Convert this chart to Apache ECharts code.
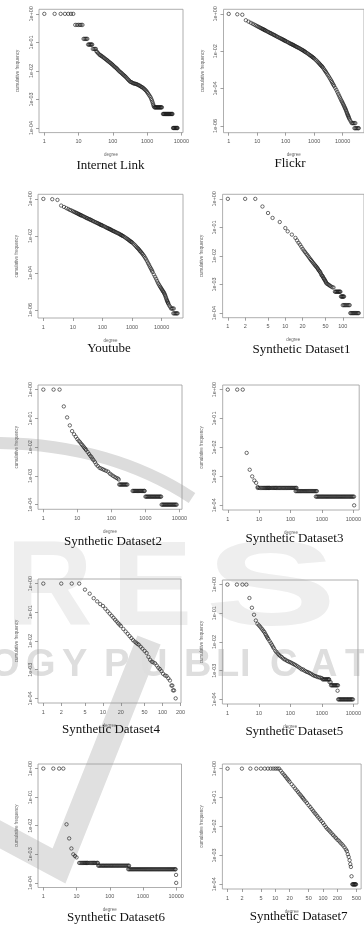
<!DOCTYPE html>
<html><head><meta charset="utf-8">
<script src="https://cdn.jsdelivr.net/npm/echarts@6/dist/echarts.min.js"></script>
<style>html,body{margin:0;padding:0;background:#fff}#c{width:364px;height:927px}</style>
</head><body><div id="c"></div><script>
// ---------- titles ----------
const panelTitles = ['Internet Link','Flickr','Youtube','Synthetic Dataset1','Synthetic Dataset2',
  'Synthetic Dataset3','Synthetic Dataset4','Synthetic Dataset5','Synthetic Dataset6','Synthetic Dataset7'];
const xAxisName = 'degree';
const yAxisName = 'cumulative frequency';

// ---------- tick values / labels ----------
const xTicksDecade = [1,10,100,1000,10000];
const xLabelsDecade = ['1','10','100','1000','10000'];
const xTicks125 = [1,2,5,10,20,50,100,200,500];
const xLabels125 = ['1','2','5','10','20','50','100','200','500'];
const yTicks4 = [1,0.1,0.01,0.001,0.0001];
const yLabels4 = ['1e+00','1e-01','1e-02','1e-03','1e-04'];
const yTicks6 = [1,0.01,0.0001,0.000001];
const yLabels6 = ['1e+00','1e-02','1e-04','1e-06'];

// ---------- data: [degree, cumulative frequency] ----------
const internetLink = [[1,1],[2,1],[3,1],[4,1],[5,1],[6,1],[7,1],
[8,0.41],[9,0.41],[10,0.41],[11,0.41],[12,0.41],[13,0.41],
[14,0.133],[15,0.133],[16,0.133],[17,0.133],[18,0.133],
[19,0.084],[20,0.084],[21,0.084],[22,0.084],[23,0.084],[24,0.084],[25,0.084],
[26,0.059],[28,0.059],[30,0.059],[32,0.059],
[33,0.049],[35,0.0457],[37,0.042],[40,0.0385],[42,0.036],[45,0.0347],[47,0.033],[50,0.0316],[53,0.03],[56,0.0282],[60,0.0265],[64,0.0251],[68,0.0238],[71,0.0226],[75,0.0214],[80,0.0202],[85,0.019],[90,0.018],[95,0.017],[100,0.0162],[106,0.015],[112,0.0141],[119,0.0133],[126,0.0126],[133,0.0118],[140,0.011],[149,0.0102],[158,0.0095],[168,0.009],[178,0.0085],[189,0.0079],[200,0.0074],[212,0.007],[224,0.0066],[237,0.0062],[251,0.00575],[266,0.0053],[282,0.0049],[299,0.0046],[316,0.00427],[335,0.0041],[355,0.004],[376,0.0038],[398,0.0037],[422,0.0036],[447,0.00355],[473,0.0035],[501,0.0034],[531,0.0033],[562,0.00316],[596,0.0031],[631,0.00295],[668,0.0028],[708,0.0027],[750,0.0026],[794,0.00245],[841,0.0023],[891,0.00214],[944,0.002],[1000,0.00182],[1060,0.00165],[1122,0.00148],[1190,0.00134],[1259,0.0012],[1320,0.00105],[1380,0.00093],[1430,0.00082],[1480,0.00072],[1530,0.00064],[1567,0.000575],
[1640,0.00053],[1700,0.00053],[1760,0.00053],[1820,0.00053],[1890,0.00053],[1960,0.00053],[2030,0.00053],[2100,0.00053],[2180,0.00053],[2260,0.00053],[2340,0.00053],[2430,0.00053],[2520,0.00053],[2610,0.00053],[2700,0.00053],
[2900,0.00031],[3010,0.00031],[3120,0.00031],[3230,0.00031],[3350,0.00031],[3470,0.00031],[3600,0.00031],[3730,0.00031],[3870,0.00031],[4010,0.00031],[4160,0.00031],[4310,0.00031],[4470,0.00031],[4630,0.00031],[4800,0.00031],[4980,0.00031],[5160,0.00031],[5350,0.00031],[5500,0.00031],
[5700,0.0001],[5900,0.0001],[6120,0.0001],[6340,0.0001],[6570,0.0001],[6810,0.0001],[7060,0.0001],[7320,0.0001],[7550,0.0001],[7700,0.0001]];

const flickr = [[1,1],[2,0.95],[3,0.9],
[4,0.457],[5,0.382],[6,0.331],[7,0.292],[8,0.263],[9,0.24],[10,0.219],[11,0.204],[12,0.19],[13,0.178],[14,0.168],[15,0.159],[16,0.151],[17,0.144],[18,0.138],[19,0.132],[20,0.126],[22,0.117],[24,0.109],[26,0.102],[28,0.096],[30,0.091],[32,0.087],[35,0.081],[38,0.076],[40,0.0724],[43,0.069],[47,0.064],[50,0.06],[55,0.056],[60,0.0525],[65,0.049],[70,0.0468],[75,0.044],[80,0.0417],[85,0.04],[90,0.038],[95,0.0363],[100,0.0347],[110,0.0323],[120,0.0302],[130,0.0282],[140,0.0263],[150,0.025],[160,0.024],[170,0.0229],[180,0.0219],[190,0.021],[200,0.02],[215,0.0189],[230,0.0178],[245,0.017],[260,0.0162],[280,0.0153],[300,0.0145],[325,0.0135],[350,0.0126],[375,0.0119],[400,0.0112],[425,0.0106],[450,0.01],[475,0.0094],[500,0.0089],[550,0.0081],[600,0.0074],[650,0.0068],[700,0.0062],[750,0.0058],[800,0.0054],[850,0.005],[900,0.0047],[950,0.0044],[1000,0.0041],[1100,0.0036],[1200,0.0032],[1300,0.0028],[1400,0.0025],[1500,0.00225],[1600,0.002],[1700,0.0018],[1800,0.00166],[1900,0.0015],[2000,0.00138],[2150,0.00118],[2300,0.001],[2450,0.00087],[2600,0.00076],[2800,0.00064],[3000,0.00054],[3250,0.00045],[3500,0.00037],[3750,0.00031],[4000,0.00026],[4250,0.00022],[4500,0.000186],[4750,0.00016],[5000,0.000138],[5500,0.000108],[6000,0.000085],[6500,0.000066],[7000,0.000052],[7500,0.000042],[8000,0.000034],[8500,0.000028],[9000,0.000023],[9500,0.00002],[10000,0.000017],[10500,0.0000145],[11000,0.0000126],[11500,0.0000108],[12000,0.0000093],[12500,0.0000082],[13000,0.0000071],[13500,0.0000061],[14000,0.0000052],[14500,0.0000046],[15000,0.000004],[15500,0.0000036],[16000,0.0000032],[16500,0.0000028],[17000,0.0000025],[18000,0.0000021],[19500,0.0000017],
[21000,0.0000014],[22500,0.0000014],[24000,0.0000014],[26000,0.0000014],[28000,0.0000014],
[26000,7.5e-7],[28000,7.5e-7],[30000,7.5e-7],[32500,7.5e-7],[35000,7.5e-7],[37000,7.5e-7]];

const youtube = [[1,1],[2,0.96],[3,0.88],
[4,0.436],[5,0.367],[6,0.316],[7,0.282],[8,0.251],[9,0.234],[10,0.214],[11,0.2],[12,0.186],[13,0.175],[14,0.166],[15,0.157],[16,0.148],[17,0.141],[18,0.135],[19,0.13],[20,0.126],[22,0.117],[24,0.109],[26,0.102],[28,0.096],[30,0.091],[32,0.087],[35,0.081],[38,0.077],[40,0.074],[43,0.07],[47,0.065],[50,0.0617],[55,0.057],[60,0.0537],[65,0.0505],[70,0.0479],[75,0.0452],[80,0.0427],[85,0.041],[90,0.039],[95,0.0376],[100,0.0363],[110,0.0338],[120,0.0316],[130,0.0295],[140,0.0275],[150,0.0263],[160,0.0251],[170,0.024],[180,0.0229],[190,0.0219],[200,0.0209],[215,0.0197],[230,0.0186],[245,0.0178],[260,0.017],[280,0.016],[300,0.0151],[325,0.0143],[350,0.0135],[375,0.0127],[400,0.012],[425,0.0113],[450,0.0107],[475,0.0102],[500,0.0098],[550,0.0089],[600,0.0081],[650,0.0074],[700,0.0068],[750,0.0063],[800,0.0058],[850,0.0054],[900,0.005],[950,0.0047],[1000,0.0045],[1100,0.0039],[1200,0.0034],[1300,0.003],[1400,0.0026],[1500,0.0023],[1600,0.0021],[1700,0.0019],[1800,0.00166],[1900,0.0015],[2000,0.00138],[2150,0.0012],[2300,0.00105],[2450,0.0009],[2600,0.00079],[2800,0.00065],[3000,0.00054],[3250,0.00043],[3500,0.00034],[3750,0.00028],[4000,0.000224],[4250,0.000188],[4500,0.000158],[4750,0.000133],[5000,0.000112],[5500,0.000083],[6000,0.000063],[6500,0.000049],[7000,0.000038],[7500,0.00003],[8000,0.000025],[8500,0.000021],[9000,0.000018],[9500,0.0000158],[10000,0.0000138],[10500,0.0000122],[11000,0.0000107],[11500,0.0000097],[12000,0.0000087],[12500,0.0000076],[13000,0.0000066],[13500,0.0000057],[14000,0.0000048],[14500,0.0000041],[15000,0.0000035],[15500,0.0000031],[16000,0.00000275],[16500,0.00000245],[17000,0.0000022],[18000,0.0000018],[19500,0.0000015],
[21000,0.0000012],[22500,0.0000012],[24000,0.0000012],[26000,0.0000012],
[25000,6.6e-7],[27000,6.6e-7],[29000,6.6e-7],[31000,6.6e-7],[33000,6.6e-7],[35000,6.6e-7]];

const synthetic1 = [[1,1],[2,1],[3,1],[4,0.54],[5,0.32],[6,0.215],[8,0.155],[10,0.095],[11,0.073],[13,0.056],[15,0.043],
[16,0.035],[17,0.029],[18,0.025],[19,0.021],[20,0.0178],[21,0.0155],[22,0.0138],[23,0.0122],[24,0.011],[25,0.0098],[26,0.0088],[27,0.0079],[28,0.0072],[29,0.0066],[30,0.006],[31,0.0055],[32,0.0051],[33,0.0047],[34,0.0044],[35,0.0041],[36,0.0038],[37,0.0035],[38,0.0032],[39,0.003],[40,0.0028],[41,0.0026],[42,0.0023],[43,0.0021],[44,0.002],[45,0.0019],[46,0.0017],[47,0.0016],[48,0.0015],[49,0.0014],[50,0.0013],[51,0.0012],[52,0.0011],[54,0.00105],[56,0.001],[58,0.00095],[60,0.0009],[63,0.00085],[66,0.0008],[69,0.00079],
[73,0.00056],[75,0.00056],[77,0.00056],[79,0.00056],[81,0.00056],[83,0.00056],[85,0.00056],[87,0.00056],[89,0.00056],[91,0.00056],
[93,0.00038],[95,0.00038],[97,0.00038],[99,0.00038],[101,0.00038],[103,0.00038],[105,0.00038],
[100,0.00019],[104,0.00019],[108,0.00019],[112,0.00019],[117,0.00019],[122,0.00019],[127,0.00019],[132,0.00019],
[135,0.0001],[140,0.0001],[145,0.0001],[150,0.0001],[155,0.0001],[160,0.0001],[166,0.0001],[172,0.0001],[178,0.0001],[184,0.0001],[190,0.0001]];

const synthetic2 = [[1,1],[2,1],[3,1],[4,0.26],[5,0.108],[6,0.057],[7,0.036],[8,0.028],[9,0.023],[10,0.019],[11,0.0165],[12,0.0148],[13,0.013],[14,0.0118],[15,0.0106],[16,0.0096],[17,0.0088],[18,0.008],[20,0.0068],[22,0.0058],[24,0.005],[26,0.0045],[28,0.0039],[30,0.0035],[33,0.003],[36,0.0025],[40,0.0022],[45,0.0019],[50,0.0018],[56,0.0017],[62,0.0016],[70,0.0015],[80,0.0014],[90,0.0012],[100,0.0011],[112,0.001],[125,0.00092],[140,0.00085],[155,0.00081],[165,0.00075],
[170,0.0005],[180,0.0005],[190,0.0005],[200,0.0005],[212,0.0005],[224,0.0005],[237,0.0005],[250,0.0005],[265,0.0005],[280,0.0005],[295,0.0005],
[420,0.0003],[445,0.0003],[470,0.0003],[497,0.0003],[526,0.0003],[557,0.0003],[589,0.0003],[623,0.0003],[659,0.0003],[697,0.0003],[737,0.0003],[780,0.0003],[825,0.0003],[873,0.0003],[923,0.0003],[950,0.0003],
[1000,0.00019],[1060,0.00019],[1120,0.00019],[1185,0.00019],[1255,0.00019],[1330,0.00019],[1405,0.00019],[1490,0.00019],[1575,0.00019],[1665,0.00019],[1765,0.00019],[1865,0.00019],[1975,0.00019],[2090,0.00019],[2210,0.00019],[2340,0.00019],[2475,0.00019],[2620,0.00019],[2770,0.00019],[2900,0.00019],
[3000,0.0001],[3170,0.0001],[3360,0.0001],[3550,0.0001],[3760,0.0001],[3980,0.0001],[4210,0.0001],[4450,0.0001],[4710,0.0001],[4990,0.0001],[5280,0.0001],[5580,0.0001],[5910,0.0001],[6250,0.0001],[6620,0.0001],[7000,0.0001],[7410,0.0001],[7840,0.0001],[8300,0.0001]];

const synthetic3 = [[1,1],[2,1],[3,1],[4,0.0065],[5,0.0017],[6,0.001],[7,0.00072],[8,0.0006],[9,0.00043],
[9,0.0004],[10,0.0004],[11,0.0004],[12,0.0004],[13,0.0004],[14,0.0004],[15,0.0004],[16,0.0004],[17,0.0004],[18,0.0004],[19,0.0004],[20,0.0004],[21,0.0004],[22,0.0004],[24,0.0004],[26,0.0004],[28,0.0004],[30,0.0004],[32,0.0004],[34,0.0004],[36,0.0004],[39,0.0004],[42,0.0004],[45,0.0004],[48,0.0004],[52,0.0004],[56,0.0004],[60,0.0004],[64,0.0004],[69,0.0004],[74,0.0004],[79,0.0004],[85,0.0004],[91,0.0004],[98,0.0004],[105,0.0004],[112,0.0004],[120,0.0004],[129,0.0004],[138,0.0004],[148,0.0004],[155,0.0004],
[145,0.00031],[155,0.00031],[166,0.00031],[178,0.00031],[190,0.00031],[204,0.00031],[218,0.00031],[233,0.00031],[250,0.00031],[268,0.00031],[287,0.00031],[307,0.00031],[329,0.00031],[352,0.00031],[377,0.00031],[404,0.00031],[432,0.00031],[463,0.00031],[495,0.00031],[530,0.00031],[568,0.00031],[608,0.00031],[650,0.00031],[690,0.00031],
[640,0.0002],[685,0.0002],[733,0.0002],[785,0.0002],[840,0.0002],[900,0.0002],[963,0.0002],[1030,0.0002],[1100,0.0002],[1180,0.0002],[1265,0.0002],[1355,0.0002],[1450,0.0002],[1550,0.0002],[1660,0.0002],[1780,0.0002],[1905,0.0002],[2040,0.0002],[2185,0.0002],[2340,0.0002],[2505,0.0002],[2680,0.0002],[2870,0.0002],[3075,0.0002],[3290,0.0002],[3525,0.0002],[3775,0.0002],[4040,0.0002],[4330,0.0002],[4635,0.0002],[4960,0.0002],[5310,0.0002],[5690,0.0002],[6090,0.0002],[6520,0.0002],[6980,0.0002],[7475,0.0002],[8000,0.0002],[8570,0.0002],[9175,0.0002],[9820,0.0002],[10500,0.0002],
[10600,0.0001]];

const synthetic4 = [[1,1],[2,1],[3,1],[4,1],[5,0.615],[6,0.445],[7,0.31],[8,0.24],[9,0.193],[10,0.166],[11,0.133],[12,0.108],[13,0.0897],[14,0.0759],[15,0.0646],[16,0.055],[17,0.0479],[18,0.0417],[19,0.0372],[20,0.0331],[22,0.0263],[24,0.0214],[26,0.0178],[28,0.0148],[30,0.0126],[32,0.0107],[34,0.0095],[36,0.0087],[38,0.0079],[40,0.0074],[43,0.0063],[46,0.0054],[50,0.0045],[54,0.0038],[58,0.0028],[62,0.0022],[66,0.0019],[70,0.0018],[75,0.00166],[80,0.0014],[85,0.00117],[90,0.00105],[96,0.00089],[102,0.00072],[110,0.00063],[117,0.0006],[125,0.0005],[133,0.00042],[141,0.00028],[146,0.00028],[150,0.00019],[156,0.00019],[166,0.0001]];

const synthetic5 = [[1,1],[2,1],[3,1],[4,1],[5,0.34],[6,0.156],[7,0.089],[8,0.056],[9,0.043],[10,0.038],[11,0.034],[12,0.03],[13,0.027],[14,0.024],[15,0.022],[16,0.019],[17,0.017],[18,0.0152],[19,0.0137],[20,0.0125],[22,0.0106],[24,0.0091],[26,0.0079],[28,0.0068],[30,0.006],[33,0.005],[36,0.0045],[40,0.0039],[44,0.0035],[48,0.0032],[53,0.003],[58,0.0027],[64,0.0025],[70,0.0024],[78,0.0022],[86,0.0021],[95,0.002],[105,0.0019],[115,0.0018],[127,0.0017],[140,0.0016],[155,0.0015],[170,0.0014],[190,0.0013],[210,0.0012],[230,0.0011],[255,0.0011],[280,0.001],[310,0.00095],[340,0.0009],[375,0.00087],[410,0.00082],[450,0.00078],[500,0.00072],[550,0.00068],[610,0.00065],[670,0.00063],[740,0.0006],[820,0.00058],[900,0.00057],[1000,0.00055],
[1050,0.0005],[1110,0.0005],[1175,0.0005],[1245,0.0005],[1320,0.0005],[1395,0.0005],[1475,0.0005],[1560,0.0005],[1650,0.0005],[1700,0.0005],
[1750,0.0004],[1900,0.0004],
[1950,0.00031],[2065,0.00031],[2185,0.00031],[2310,0.00031],[2445,0.00031],[2590,0.00031],[2740,0.00031],[2900,0.00031],[3070,0.00031],[3250,0.00031],
[3150,0.0002],
[3300,0.0001],[3490,0.0001],[3700,0.0001],[3910,0.0001],[4140,0.0001],[4380,0.0001],[4640,0.0001],[4910,0.0001],[5190,0.0001],[5500,0.0001],[5820,0.0001],[6160,0.0001],[6520,0.0001],[6900,0.0001],[7300,0.0001],[7720,0.0001],[8170,0.0001],[8650,0.0001],[9150,0.0001],[9700,0.0001]];

const synthetic6 = [[1,1],[2,1],[3,1],[4,1],[5,0.0112],[6,0.0036],[7,0.0016],[8,0.001],[9,0.00087],[10,0.00078],
[12,0.0005],[13,0.0005],[14,0.0005],[15,0.0005],[16,0.0005],[17,0.0005],[18,0.0005],[19,0.0005],[20,0.0005],[21,0.0005],[22,0.0005],[24,0.0005],[26,0.0005],[28,0.0005],[30,0.0005],[32,0.0005],[34,0.0005],[36,0.0005],[39,0.0005],[42,0.0005],[44,0.0005],
[45,0.0004],[48,0.0004],[51,0.0004],[55,0.0004],[59,0.0004],[63,0.0004],[67,0.0004],[72,0.0004],[77,0.0004],[82,0.0004],[88,0.0004],[94,0.0004],[101,0.0004],[108,0.0004],[115,0.0004],[123,0.0004],[132,0.0004],[141,0.0004],[151,0.0004],[162,0.0004],[173,0.0004],[185,0.0004],[198,0.0004],[212,0.0004],[227,0.0004],[243,0.0004],[260,0.0004],[278,0.0004],[298,0.0004],[318,0.0004],[341,0.0004],[365,0.0004],[380,0.0004],
[360,0.0003],[385,0.0003],[412,0.0003],[441,0.0003],[472,0.0003],[505,0.0003],[540,0.0003],[578,0.0003],[619,0.0003],[662,0.0003],[709,0.0003],[758,0.0003],[811,0.0003],[868,0.0003],[929,0.0003],[994,0.0003],[1064,0.0003],[1138,0.0003],[1218,0.0003],[1303,0.0003],[1395,0.0003],[1492,0.0003],[1597,0.0003],[1709,0.0003],[1828,0.0003],[1956,0.0003],[2093,0.0003],[2240,0.0003],[2397,0.0003],[2565,0.0003],[2745,0.0003],[2937,0.0003],[3142,0.0003],[3362,0.0003],[3598,0.0003],[3850,0.0003],[4120,0.0003],[4408,0.0003],[4717,0.0003],[5047,0.0003],[5400,0.0003],[5778,0.0003],[6183,0.0003],[6616,0.0003],[7079,0.0003],[7575,0.0003],[8105,0.0003],[8672,0.0003],[9280,0.0003],[9600,0.0003],
[9900,0.00019],[10000,0.0001]];

const synthetic7 = [[1,1],[2,1],[3,1],[4,1],[5,1],[6,1],[7,1],[8,1],[9,1],[10,1],[11,1],[12,1],
[13,0.85],[14,0.72],[15,0.63],[16,0.556],[17,0.49],[18,0.436],[19,0.39],[20,0.35],[22,0.288],[24,0.243],[26,0.206],[28,0.178],[30,0.155],[32,0.135],[34,0.12],[36,0.106],[38,0.0955],[40,0.085],[43,0.074],[46,0.0645],[50,0.0537],[54,0.0468],[58,0.0398],[62,0.0347],[66,0.0302],[70,0.0269],[75,0.0234],[80,0.0204],[86,0.0178],[92,0.0155],[100,0.0132],[107,0.0112],[115,0.0095],[123,0.0083],[132,0.0074],[141,0.0066],[151,0.0058],[162,0.0051],[174,0.0045],[186,0.004],[200,0.0035],[214,0.0032],[229,0.0028],[245,0.0025],[263,0.0022],[282,0.0019],[302,0.0016],[316,0.0014],[330,0.0011],[345,0.00089],[360,0.00068],[372,0.0005],[383,0.0004],
[395,0.00019],
[410,0.0001],[420,0.0001],[430,0.0001],[440,0.0001],[450,0.0001],[460,0.0001],[470,0.0001],[480,0.0001],[490,0.0001]];

const panelData = [internetLink, flickr, youtube, synthetic1, synthetic2, synthetic3, synthetic4, synthetic5, synthetic6, synthetic7];
const panelXTicks = [[xTicksDecade,xLabelsDecade],[xTicksDecade,xLabelsDecade],[xTicksDecade,xLabelsDecade],[xTicks125.slice(0,7),xLabels125.slice(0,7)],
  [xTicksDecade,xLabelsDecade],[xTicksDecade,xLabelsDecade],[xTicks125.slice(0,8),xLabels125.slice(0,8)],[xTicksDecade,xLabelsDecade],[xTicksDecade,xLabelsDecade],[xTicks125,xLabels125]];
const panelYTicks = [[yTicks4,yLabels4],[yTicks6,yLabels6],[yTicks6,yLabels6],[yTicks4,yLabels4],[yTicks4,yLabels4],
  [yTicks4,yLabels4],[yTicks4,yLabels4],[yTicks4,yLabels4],[yTicks4,yLabels4],[yTicks4,yLabels4]];

// ---------- watermark text (publisher logo in the source) ----------
const watermarkBig = ['R','E','S'];
const watermarkLine = ['O','G','Y','P','U','B','L','I','C','A','T'];

// ---------- layout (pixels) and axis ranges ----------
const layout = [
 {l:39,   t:9.3,  w:144,   h:123.3, x0:0.7,   x1:11170, y0:6.9e-5, y1:1.445, tx:110.5, ty:166},
 {l:223.5,t:9.3,  w:143.5, h:123.4, x0:0.656, x1:56400, y0:4.3e-7, y1:1.76,  tx:290,   ty:163.5},
 {l:38,   t:194.3,w:145,   h:123.7, x0:0.659, x1:53200, y0:3.7e-7, y1:1.77,  tx:109,   ty:349},
 {l:222.6,t:194.3,w:145,   h:123.4, x0:0.81,  x1:234,   y0:6.9e-5, y1:1.445, tx:301.5, ty:350},
 {l:38,   t:385,  w:144,   h:124.3, x0:0.697, x1:11900, y0:6.9e-5, y1:1.445, tx:113,   ty:542},
 {l:222.7,t:385,  w:143.5, h:125,   x0:0.69,  x1:15350, y0:6.9e-5, y1:1.445, tx:294.5, ty:539},
 {l:38,   t:579,  w:143,   h:124,   x0:0.815, x1:204,   y0:6.9e-5, y1:1.445, tx:111,   ty:730},
 {l:222.4,t:580,  w:144,   h:124,   x0:0.693, x1:14000, y0:6.9e-5, y1:1.445, tx:294.3, ty:732},
 {l:38,   t:764,  w:143.5, h:123.5, x0:0.692, x1:14450, y0:6.9e-5, y1:1.445, tx:116,   ty:918},
 {l:222.4,t:764,  w:143.5, h:125,   x0:0.78,  x1:628,   y0:6.9e-5, y1:1.445, tx:298.7, ty:917}
];
const bigPos = [[6,532,1.0],[112,532,1.0],[205,532,1.65]];
const linePos = [-10,26,62,104,140,184,216,240,270,310,345];

function pickLabel(v, vals, labels){
  let best = 0, bd = Infinity;
  for (let i=0;i<vals.length;i++){ const d = Math.abs(Math.log10(v) - Math.log10(vals[i])); if (d<bd){bd=d;best=i;} }
  return bd < 0.01 ? labels[best] : '';
}

const grids=[], xAxes=[], yAxes=[], series=[];
const graphics=[
  {type:'bezierCurve', z:-10, shape:{x1:-5,y1:443,cpx1:110,cpy1:444,x2:192,y2:498}, style:{stroke:'#dcdcdc', lineWidth:12, fill:null}},
  {type:'polyline', z:-10, shape:{points:[[-12,828],[59,866],[149,640]]}, style:{stroke:'#e0e0e0', lineWidth:25, fill:null, lineJoin:'miter'}}
];
watermarkBig.forEach((ch,i)=>graphics.push({type:'text', z:-10, x:bigPos[i][0], y:bigPos[i][1], scaleX:bigPos[i][2],
  style:{text:ch, font:'bold 120px "Liberation Sans", Arial, sans-serif', fill:'#eeeeee', verticalAlign:'top'}}));
watermarkLine.forEach((ch,i)=>graphics.push({type:'text', z:-10, x:linePos[i], y:647,
  style:{text:ch, font:'bold 38px "Liberation Sans", Arial, sans-serif', fill:'#dedede', verticalAlign:'top'}}));

layout.forEach((p,i)=>{
  grids.push({left:p.l, top:p.t, width:p.w, height:p.h, show:true, borderColor:'#9a9a9a', borderWidth:0.8, backgroundColor:'transparent', containLabel:false});
  const [xv,xl] = panelXTicks[i], [yv,yl] = panelYTicks[i];
  xAxes.push({type:'log', logBase:10, gridIndex:i, min:p.x0, max:p.x1,
    axisLine:{show:false}, splitLine:{show:false}, minorTick:{show:false},
    axisTick:{show:true, length:3, customValues:xv, lineStyle:{color:'#777', width:0.7}},
    axisLabel:{customValues:xv, formatter:v=>pickLabel(v,xv,xl), fontSize:5.5, color:'#555', margin:6, fontFamily:'Liberation Sans'},
    name:xAxisName, nameLocation:'middle', nameGap:20, nameTextStyle:{fontSize:4.5, color:'#666', fontFamily:'Liberation Sans'}});
  yAxes.push({type:'log', logBase:10, gridIndex:i, min:p.y0, max:p.y1,
    axisLine:{show:false}, splitLine:{show:false}, minorTick:{show:false},
    axisTick:{show:true, length:3, customValues:yv, lineStyle:{color:'#777', width:0.7}},
    axisLabel:{customValues:yv, rotate:90, formatter:v=>pickLabel(v,yv,yl), fontSize:5.5, color:'#555', margin:5, fontFamily:'Liberation Sans'},
    name:yAxisName, nameLocation:'middle', nameGap:18.5, nameRotate:90, nameTextStyle:{fontSize:4.5, color:'#666', fontFamily:'Liberation Sans'}});
  series.push({type:'scatter', xAxisIndex:i, yAxisIndex:i, data:panelData[i], symbol:'circle', symbolSize:3.4,
    itemStyle:{color:'rgba(0,0,0,0)', borderColor:'#1c1c1c', borderWidth:0.8}, silent:true, emphasis:{disabled:true}, animation:false});
  graphics.push({type:'text', x:p.tx, y:p.ty, style:{text:panelTitles[i], align:'center', verticalAlign:'middle',
    font:'13px "Liberation Serif", "Times New Roman", serif', fill:'#111'}});
});

const chart = echarts.init(document.getElementById('c'), null, {renderer:'canvas', width:364, height:927});
chart.setOption({backgroundColor:'#fff', animation:false, grid:grids, xAxis:xAxes, yAxis:yAxes, series:series, graphic:graphics});
</script></body></html>
